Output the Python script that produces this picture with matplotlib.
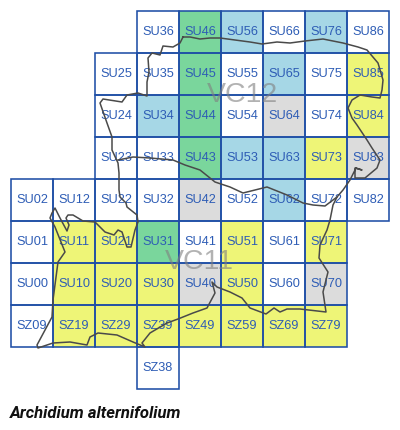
import matplotlib
matplotlib.use("Agg")
import matplotlib.pyplot as plt
from matplotlib.patches import Rectangle

# hectads by recording status
white_squares = ["SU36","SU66","SU86","SU25","SU35","SU55","SU75","SU24","SU54","SU74",
                 "SU23","SU33","SU02","SU12","SU22","SU32","SU52","SU72","SU82",
                 "SU01","SU41","SU61","SU00","SU60","SZ09","SZ38"]
blue_squares = ["SU56","SU76","SU65","SU34","SU53","SU63","SU62"]
green_squares = ["SU46","SU45","SU44","SU43","SU31"]
yellow_squares = ["SU85","SU84","SU73","SU11","SU21","SU51","SU71","SU10","SU20","SU30",
                  "SU50","SZ19","SZ29","SZ39","SZ49","SZ59","SZ69","SZ79"]
grey_squares = ["SU64","SU83","SU42","SU40","SU70"]
status_colours = {"white": "#ffffff", "blue": "#a6d7e6", "green": "#7ad69c",
                  "yellow": "#eef577", "grey": "#dcdcdc"}

outer_x = [183,190,200,210,220,235,250,262,277,290,305,323,343,358,367,378,383,382,380,372,360,352,348,352,
           357,367,372,380,377,365,357,355,355,362,356,350,343,337,333,330,327,320,319,328,323,326,300,287,280,274,266,
           250,242,230,217,212,215,207,193,178,167,150,142,145,133,117,98,90,87,70,53,38,37,52,53,58,65,61,55,50,52,55,60,67,69,66,68,
           73,83,95,105,114,118,122,127,131,135,138,137,127,126,120,119,119,118,112,112,107,100,103,122,127,138,147,147,149,148,
           152,160,163,173,180,183]
outer_y = [37,37,39,38,38,40,42,44,42,43,41,39,43,47,50,63,80,90,98,97,95,100,108,118,
           125,140,148,160,168,178,178,178,168,170,168,180,190,197,205,220,230,245,258,272,292,312,309,309,312,308,314,
           308,298,292,287,282,293,308,313,319,323,333,343,347,342,335,333,337,345,342,343,348,345,317,300,262,252,242,227,218,213,208,218,231,225,218,215,
           215,221,222,232,235,230,232,247,247,230,222,215,207,203,197,190,173,163,150,137,123,103,99,102,95,93,96,82,72,58,
           53,55,46,47,43,37]
vc_x = [118,133,150,173,185,200,215,230,243,255,267,287,303,313,325,337]
vc_y = [160,157,158,160,165,170,182,187,193,190,187,195,203,205,206,197]

cell_px = 42
origin_x, origin_y = 11, 305   # image pixels of the SU00 south-west corner


def easting(px):
    return [(p - origin_x) / cell_px for p in px]


def northing(py):
    return [(origin_y - p) / cell_px for p in py]


def cell_origin(ref):
    north = int(ref[3])
    if ref[0:2] == "SZ":
        north -= 10
    return int(ref[2]), north


fig = plt.figure(figsize=(4, 4.3), dpi=100)
ax = fig.add_axes([0, 0, 1, 1])
ax.set_xlim(*easting([0, 400]))
ax.set_ylim(*northing([430, 0]))
ax.axis("off")

groups = [(white_squares, "white"), (blue_squares, "blue"), (green_squares, "green"),
          (yellow_squares, "yellow"), (grey_squares, "grey")]
for squares, name in groups:
    for ref in squares:
        e, n = cell_origin(ref)
        ax.add_patch(Rectangle((e, n), 1, 1, facecolor=status_colours[name], edgecolor="none", zorder=1))
for squares, name in groups:
    for ref in squares:
        e, n = cell_origin(ref)
        ax.add_patch(Rectangle((e, n), 1, 1, facecolor="none", edgecolor="#1f4fa6", linewidth=1.15, zorder=2))
        ax.text(e + 0.5, n + 0.5, ref, ha="center", va="center", fontsize=9.2,
                family="Liberation Sans", color="#2d5cb5", zorder=3)

ax.text(easting([242])[0], northing([95])[0], "VC12", ha="center", va="center", fontsize=20.5,
        family="Liberation Sans", color="#808080", alpha=0.6, zorder=4)
ax.text(easting([199])[0], northing([262])[0], "VC11", ha="center", va="center", fontsize=20.5,
        family="Liberation Sans", color="#808080", alpha=0.6, zorder=4)

for xs, ys in [(outer_x, outer_y), (vc_x, vc_y)]:
    ax.plot(easting(xs), northing(ys), color="#4a4a4a", linewidth=1.1, zorder=5, solid_joinstyle="round")

ax.text(easting([10])[0], northing([413])[0], "Archidium alternifolium", ha="left", va="center",
        fontsize=12, family="Roboto", fontweight="bold", fontstyle="italic", color="#111111")

fig.savefig("out.png", dpi=100)
